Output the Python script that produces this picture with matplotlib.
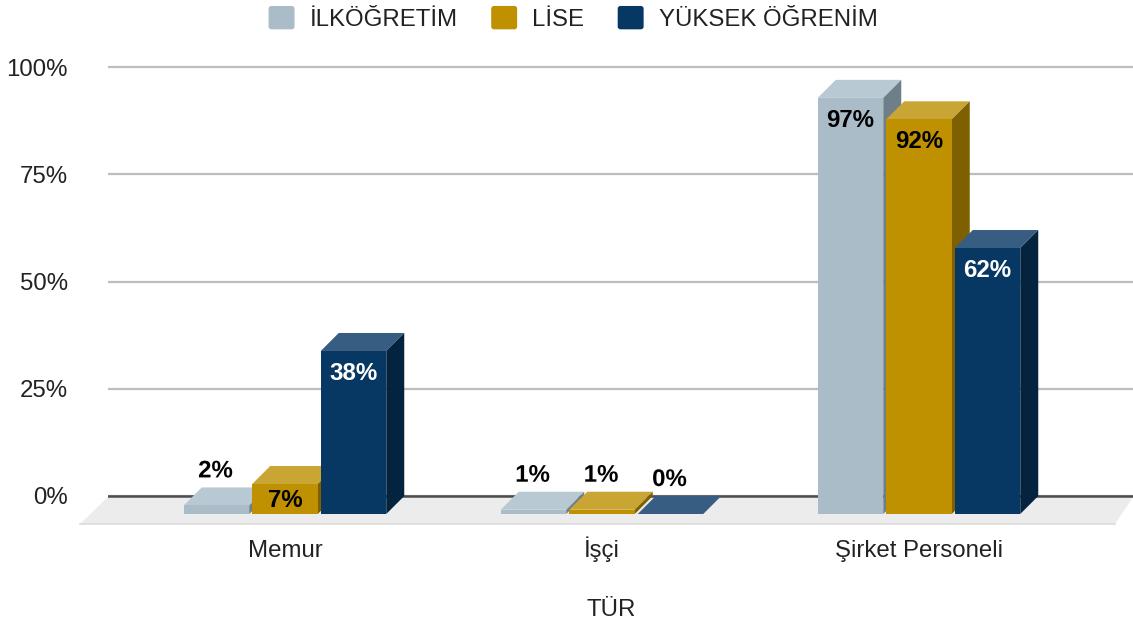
import numpy as np
from matplotlib import pyplot as plt
from matplotlib import patheffects
from matplotlib.legend_handler import HandlerPatch
from matplotlib.patches import FancyBboxPatch, Patch

plt.rcParams['font.family'] = ['Liberation Sans', 'DejaVu Sans']

categories = ['Memur', 'İşçi', 'Şirket Personeli']
series_names = ['İLKÖĞRETİM', 'LİSE', 'YÜKSEK ÖĞRENİM']
ilkogretim = [2, 1, 97]
lise = [7, 1, 92]
yuksek = [38, 0, 62]
y_ticks = [0, 25, 50, 75, 100]

series = [ilkogretim, lise, yuksek]
front_colors = ['#a9bcc8', '#bf9000', '#073763']
top_colors = ['#b8c9d3', '#c9a533', '#385d82']
side_colors = ['#6f7f89', '#7f6000', '#04233f']
label_colors = ['black', 'black', 'white']

W, H = 1133, 626
PX_X = 317.0    # pixels per category
PX_Y = 4.29     # pixels per percent
dx = 18 / PX_X  # depth of the fake 3d
dy = 18 / PX_Y
bar_w = 65.5 / PX_X
step = 68.5 / PX_X
FS = 17.3

fig = plt.figure(figsize=(W / 100, H / 100), dpi=100)
ax = fig.add_axes([108 / W, (H - 524) / H, 1 - 108 / W, 524 / H])
ax.set_xlim((108 - 285) / PX_X, (W - 285) / PX_X)
ax.set_ylim(-10 / PX_Y, 514 / PX_Y)

for s in ax.spines.values():
    s.set_visible(False)

# back wall grid sits one depth step behind the bars
ax.set_yticks(np.array(y_ticks) + dy)
ax.set_yticklabels(['%d%%' % t for t in y_ticks])
ax.set_xticks(np.arange(len(categories)))
ax.set_xticklabels(categories)
ax.tick_params(axis='y', length=0, pad=29, labelsize=FS, labelcolor='#222222')
ax.tick_params(axis='x', length=0, pad=24, labelsize=FS, labelcolor='#222222')
for t in ax.get_yticklabels():
    t.set_va('center_baseline')
# baseline so the dots of İ do not move the label
for t in ax.get_xticklabels():
    t.set_va('baseline')
ax.grid(axis='y', color='#bdbdbd', linewidth=1.6, zorder=1)
ax.grid(axis='x', visible=False)
ax.set_axisbelow(True)
ax.set_xlabel('TÜR', fontsize=FS, color='#222222')
ax.xaxis.set_label_coords((611 - 108) / (W - 108), -(87 - 12) / 524)

# floor
x0, x1 = ax.get_xlim()
floor_x = [(80 - 285) / PX_X, (1115 - 285) / PX_X, (1133 - 285) / PX_X, x0]
floor_y = [-10 / PX_Y, -10 / PX_Y, dy - 1 / PX_Y, dy - 1 / PX_Y]
ax.fill(floor_x, floor_y, facecolor='#ececec', edgecolor='none', zorder=2, clip_on=False)
ax.plot(floor_x[:2], floor_y[:2], color='#dcdcdc', linewidth=1.2, zorder=2, clip_on=False)
ax.axhline(dy, color='#4d4d4d', linewidth=1.8, zorder=2.5)

z = 3
for c in range(len(categories)):
    for i, vals in enumerate(series):
        v = vals[c]
        left = c + (i - 1) * step - bar_w / 2
        right = left + bar_w
        # top face
        ax.fill([left, right, right + dx, left + dx], [v, v, v + dy, v + dy],
                facecolor=top_colors[i], edgecolor='none', zorder=z, clip_on=False)
        # right face
        ax.fill([right, right + dx, right + dx, right], [0, dy, v + dy, v],
                facecolor=side_colors[i], edgecolor='none', zorder=z, clip_on=False)
        ax.bar(left, v, width=bar_w, align='edge', color=front_colors[i], zorder=z + 0.1)
        z += 1

for c in range(len(categories)):
    for i, vals in enumerate(series):
        v = vals[c]
        xc = c + (i - 1) * step
        if v < 5:
            # small bars carry the label above, with a white halo
            ax.text(xc - 1 / PX_X, v + 34.5 / PX_Y, '%d%%' % v, ha='center', va='center',
                    fontsize=FS, fontweight='bold', color='black', zorder=50,
                    path_effects=[patheffects.withStroke(linewidth=3, foreground='white')])
        else:
            off = 17 if v < 10 else 22.5
            ax.text(xc, v - off / PX_Y, '%d%%' % v, ha='center', va='center',
                    fontsize=FS, fontweight='bold', color=label_colors[i], zorder=50)


def rounded_handle(legend, orig_handle, xdescent, ydescent, width, height, fontsize):
    return FancyBboxPatch((-xdescent + 2, -ydescent + 2), width - 4, height - 4,
                          boxstyle='round,pad=2,rounding_size=2')


handles = [Patch(facecolor=front_colors[i], label=series_names[i]) for i in range(3)]
leg = fig.legend(handles=handles, loc='upper center', bbox_to_anchor=(573 / W, 1.002), ncol=3,
                 frameon=False, fontsize=FS, handlelength=1.08, handleheight=1.12,
                 handletextpad=0.62, columnspacing=1.4, borderpad=0.2, borderaxespad=0.1,
                 labelcolor='#222222',
                 handler_map={Patch: HandlerPatch(patch_func=rounded_handle)})

fig.savefig('out.png', dpi=100)
